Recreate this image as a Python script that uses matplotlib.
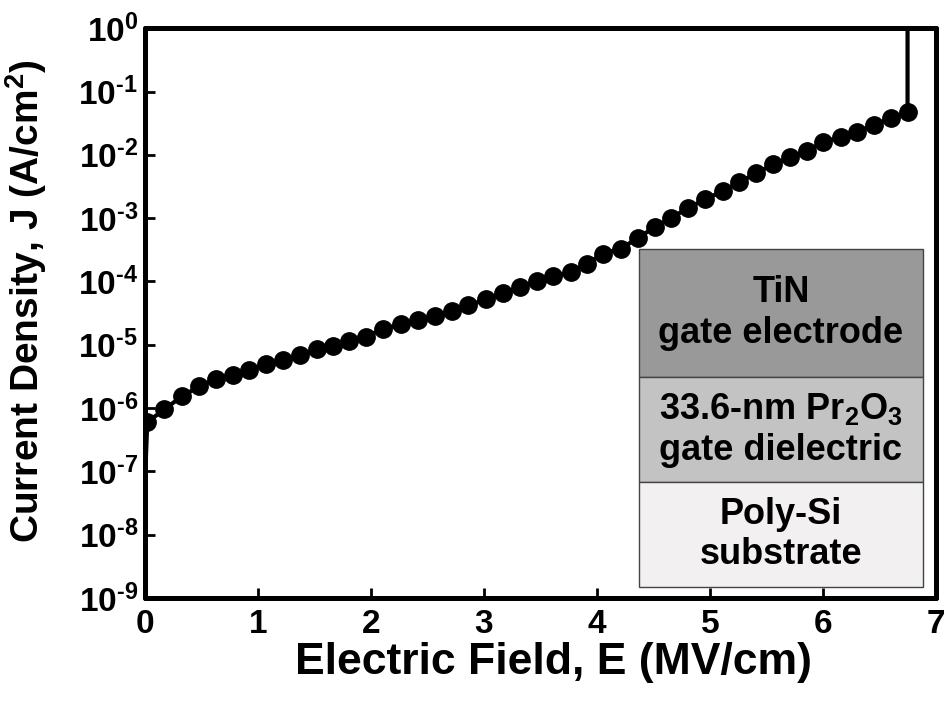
import numpy as np
import matplotlib
matplotlib.use('Agg')
import matplotlib.pyplot as plt
from matplotlib.patches import Rectangle
from matplotlib.ticker import FixedLocator, FuncFormatter, NullLocator

plt.rcParams['font.family'] = ['Liberation Sans', 'DejaVu Sans']
plt.rcParams['font.weight'] = 'bold'
plt.rcParams['mathtext.fontset'] = 'custom'
plt.rcParams['mathtext.rm'] = 'Liberation Sans:bold'
plt.rcParams['mathtext.it'] = 'Liberation Sans:bold'
plt.rcParams['mathtext.bf'] = 'Liberation Sans:bold'

# J-E data
E = [0.02, 0.17, 0.33, 0.48, 0.63, 0.78, 0.92, 1.07, 1.22, 1.37, 1.52, 1.66,
     1.81, 1.96, 2.11, 2.27, 2.42, 2.57, 2.72, 2.86, 3.02, 3.17, 3.32, 3.47,
     3.61, 3.77, 3.91, 4.05, 4.21, 4.36, 4.51, 4.66, 4.81, 4.96, 5.12, 5.26,
     5.41, 5.56, 5.71, 5.86, 6.00, 6.16, 6.30, 6.45, 6.60, 6.75]
J = [6.0e-7, 9.5e-7, 1.55e-6, 2.2e-6, 2.9e-6, 3.3e-6, 4.0e-6, 4.9e-6, 5.8e-6,
     6.8e-6, 8.5e-6, 9.5e-6, 1.15e-5, 1.35e-5, 1.8e-5, 2.1e-5, 2.45e-5, 2.8e-5,
     3.4e-5, 4.2e-5, 5.2e-5, 6.5e-5, 8.1e-5, 1.0e-4, 1.2e-4, 1.4e-4, 1.86e-4,
     2.75e-4, 3.3e-4, 4.8e-4, 7.2e-4, 1.02e-3, 1.45e-3, 2.0e-3, 2.7e-3, 3.7e-3,
     5.1e-3, 7.1e-3, 9.1e-3, 1.15e-2, 1.6e-2, 1.9e-2, 2.3e-2, 2.95e-2, 3.8e-2,
     4.7e-2]
# ramp-up at zero field and breakdown jump at the end
E_start, J_start = 0.0, 7e-8
E_bd, J_bd = 6.75, 1.0

xticks = [0, 1, 2, 3, 4, 5, 6, 7]
yticks = [1e-9, 1e-8, 1e-7, 1e-6, 1e-5, 1e-4, 1e-3, 1e-2, 1e-1, 1e0]

layers = ['TiN\ngate electrode',
          '33.6-nm Pr$_{2}$O$_{3}$\ngate dielectric',
          'Poly-Si\nsubstrate']
layer_colors = ['#999999', '#c3c3c3', '#f2f0f0']

fig = plt.figure(figsize=(9.51, 7.06), dpi=100)
ax = fig.add_axes([0.1525, 0.153, 0.8315, 0.807])

ax.plot([E_start] + E + [E_bd], [J_start] + J + [J_bd], color='black', lw=3,
        marker='o', markersize=12.5, markevery=list(range(1, len(E) + 1)),
        solid_joinstyle='round', zorder=3)

ax.set_yscale('log')
ax.set_xlim(0, 7)
ax.set_ylim(1e-9, 1)
ax.xaxis.set_major_locator(FixedLocator(xticks))
ax.yaxis.set_major_locator(FixedLocator(yticks))
ax.xaxis.set_minor_locator(NullLocator())
ax.yaxis.set_minor_locator(NullLocator())
ax.yaxis.set_major_formatter(FuncFormatter(
    lambda v, p: r'$10^{\text{%d}}$' % int(round(np.log10(v)))))

for s in ax.spines.values():
    s.set_linewidth(3.6)
    s.set_capstyle('round')
ax.tick_params(direction='in', length=7, width=2, labelsize=24, pad=8,
               top=False, right=False)
ax.tick_params(axis='y', pad=5)

ax.set_xlabel('Electric Field, E (MV/cm)', fontsize=32, fontweight='bold')
ax.set_ylabel('Current Density, J (A/cm$^{2}$)', fontsize=28, fontweight='bold')
ax.xaxis.set_label_coords(0.517, -0.078)
ax.yaxis.set_label_coords(-0.122, 0.52)

# layer stack sketch
x0, x1 = 0.6245, 0.9836
edges = [0.6123, 0.3877, 0.2035, 0.0193]
for i, (txt, col) in enumerate(zip(layers, layer_colors)):
    top, bot = edges[i], edges[i + 1]
    ax.add_patch(Rectangle((x0, bot), x1 - x0, top - bot, transform=ax.transAxes,
                           facecolor=col, edgecolor='#444444', lw=1, zorder=4))
    ax.text((x0 + x1) / 2, (top + bot) / 2, txt, transform=ax.transAxes,
            ha='center', va='center', fontsize=26, fontweight='bold',
            linespacing=1.2, zorder=5)

fig.savefig('out.png', dpi=100)
